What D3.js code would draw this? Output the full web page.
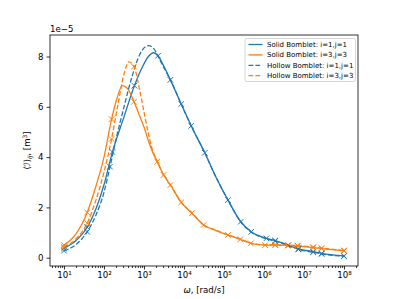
<!DOCTYPE html>
<html>
<head>
<meta charset="utf-8">
<script src="https://cdn.jsdelivr.net/npm/d3@7"></script>
<style>
  body { margin: 0; background: #fff; }
  text { font-family: "DejaVu Sans", sans-serif; }
</style>
</head>
<body>
<svg id="chart" width="399" height="299"></svg>
<script>
// curves: log10(omega) and value (x1e-5)
var s11Exp = [1.0, 1.3, 1.58, 1.8, 2.0, 2.21, 2.5, 2.76, 2.95, 3.1, 3.24, 3.35, 3.5, 3.66, 3.93, 4.18, 4.52, 4.8, 5.1, 5.42, 5.68, 6.06, 6.28, 6.61, 6.86, 7.23, 7.44, 8.0];
var s11Val = [0.37, 0.68, 1.21, 1.95, 2.9, 4.2, 5.6, 6.84, 7.55, 7.98, 8.15, 8.03, 7.6, 7.07, 6.11, 5.24, 4.17, 3.2, 2.29, 1.43, 1.03, 0.77, 0.68, 0.5, 0.35, 0.24, 0.17, 0.07];
var h11Exp = [1.0, 1.3, 1.58, 1.8, 2.0, 2.15, 2.3, 2.5, 2.7, 2.9, 3.05, 3.12, 3.25, 3.4, 3.55, 3.66, 3.93, 4.18, 4.52, 4.8, 5.1, 5.42, 5.68, 6.06, 6.28, 6.61, 6.86, 7.23, 7.44, 8.0];
var h11Val = [0.28, 0.52, 1.03, 1.7, 2.6, 3.62, 4.7, 6.0, 7.2, 8.1, 8.4, 8.43, 8.3, 7.85, 7.4, 7.07, 6.11, 5.24, 4.17, 3.2, 2.29, 1.42, 1.02, 0.75, 0.66, 0.48, 0.33, 0.22, 0.15, 0.06];
var s33Exp = [1.0, 1.3, 1.58, 1.8, 2.0, 2.19, 2.3, 2.46, 2.6, 2.75, 2.9, 3.0, 3.1, 3.2, 3.33, 3.49, 3.66, 3.93, 4.2, 4.49, 4.8, 5.1, 5.41, 5.67, 6.03, 6.28, 6.59, 6.84, 7.23, 7.44, 8.0];
var s33Val = [0.5, 0.95, 1.8, 2.85, 4.0, 5.51, 6.2, 6.84, 6.7, 6.2, 5.6, 5.2, 4.7, 4.25, 3.82, 3.29, 2.89, 2.2, 1.77, 1.3, 1.08, 0.9, 0.73, 0.57, 0.5, 0.5, 0.48, 0.46, 0.4, 0.36, 0.27];
var h33Exp = [1.0, 1.3, 1.58, 1.8, 2.0, 2.19, 2.35, 2.5, 2.62, 2.75, 2.9, 3.0, 3.1, 3.2, 3.33, 3.49, 3.66, 3.93, 4.2, 4.49, 4.8, 5.1, 5.41, 5.67, 6.03, 6.28, 6.59, 6.84, 7.23, 7.44, 8.0];
var h33Val = [0.42, 0.75, 1.37, 2.3, 3.4, 4.72, 6.1, 7.3, 7.79, 7.6, 6.6, 5.8, 5.0, 4.35, 3.84, 3.3, 2.9, 2.21, 1.78, 1.31, 1.09, 0.91, 0.74, 0.58, 0.51, 0.52, 0.5, 0.48, 0.42, 0.38, 0.29];

// x markers
var s11MarkExp = [1.0, 1.58, 2.21, 2.76, 3.35, 3.66, 3.93, 4.18, 4.52, 5.1, 5.42, 5.68, 6.06, 6.28, 6.61, 6.86, 7.23, 7.44, 8.0];
var s11MarkVal = [0.37, 1.21, 4.2, 6.84, 8.03, 7.07, 6.11, 5.24, 4.17, 2.29, 1.43, 1.03, 0.77, 0.68, 0.5, 0.35, 0.24, 0.17, 0.07];
var h11MarkExp = [1.0, 1.58, 2.15, 6.28, 6.86, 7.23, 7.44, 8.0];
var h11MarkVal = [0.28, 1.03, 3.62, 0.66, 0.33, 0.22, 0.15, 0.06];
var s33MarkExp = [1.0, 1.58, 2.19, 2.75, 3.33, 3.49, 3.66, 3.93, 4.2, 4.49, 5.1, 5.41, 5.67, 6.03, 6.28, 6.59, 6.84, 7.23, 7.44, 8.0];
var s33MarkVal = [0.5, 1.8, 5.51, 6.2, 3.82, 3.29, 2.89, 2.2, 1.77, 1.3, 0.9, 0.73, 0.57, 0.5, 0.5, 0.48, 0.46, 0.4, 0.36, 0.27];
var h33MarkExp = [1.0, 1.58, 2.19, 2.75, 6.28, 6.84, 7.23, 7.44, 8.0];
var h33MarkVal = [0.42, 1.37, 4.72, 7.6, 0.52, 0.48, 0.42, 0.38, 0.29];

var legendLabels = ["Solid Bomblet: i=1,j=1", "Solid Bomblet: i=3,j=3", "Hollow Bomblet: i=1,j=1", "Hollow Bomblet: i=3,j=3"];
var yTicks = [0, 2, 4, 6, 8];
var xTickExps = [1, 2, 3, 4, 5, 6, 7, 8];

var blue = "#1f77b4", orange = "#ff7f0e";
var series = [
  { exp: s11Exp, val: s11Val, mx: s11MarkExp, my: s11MarkVal, color: blue, dash: null },
  { exp: s33Exp, val: s33Val, mx: s33MarkExp, my: s33MarkVal, color: orange, dash: null },
  { exp: h11Exp, val: h11Val, mx: h11MarkExp, my: h11MarkVal, color: blue, dash: "4.8,2.1" },
  { exp: h33Exp, val: h33Val, mx: h33MarkExp, my: h33MarkVal, color: orange, dash: "4.8,2.1" }
];

var L = 50, R = 358, T = 35, B = 266;
var svg = d3.select("#chart");

var x = d3.scaleLog().domain([Math.pow(10, 0.65), Math.pow(10, 8.35)]).range([L, R]);
var y = d3.scaleLinear().domain([-0.33, 8.855]).range([B, T]);

// axes
var sup = { "1": "¹", "2": "²", "3": "³", "4": "⁴", "5": "⁵", "6": "⁶", "7": "⁷", "8": "⁸" };
var minors = [];
for (var e = 0; e <= 8; e++) {
  for (var k = 2; k <= 9; k++) {
    var v = k * Math.pow(10, e);
    if (v > x.domain()[0] && v < x.domain()[1]) minors.push(v);
  }
}

svg.append("g").attr("transform", "translate(0," + B + ")")
  .call(d3.axisBottom(x).tickValues(xTickExps.map(function (d) { return Math.pow(10, d); }))
    .tickSize(3.5).tickPadding(2.5)
    .tickFormat(function (d) { return "10" + sup[String(Math.round(Math.log10(d)))]; }));
svg.append("g").attr("transform", "translate(0," + B + ")")
  .call(d3.axisBottom(x).tickValues(minors).tickSize(2).tickFormat(""));

svg.append("g").attr("transform", "translate(" + L + ",0)")
  .call(d3.axisLeft(y).tickValues(yTicks).tickSize(3.5).tickPadding(3).tickFormat(d3.format("d")));

svg.selectAll(".domain").remove();
svg.selectAll(".tick text").style("font-size", "8.6px").attr("fill", "#000");
svg.selectAll(".tick line").attr("stroke", "#000").attr("stroke-width", 0.8);

// curves
var line = d3.line()
  .x(function (d) { return x(Math.pow(10, d[0])); })
  .y(function (d) { return y(d[1]); })
  .curve(d3.curveMonotoneX);

var plot = svg.append("g");
series.forEach(function (s) {
  var pts = s.exp.map(function (e, i) { return [e, s.val[i]]; });
  plot.append("path").datum(pts)
    .attr("d", line)
    .attr("fill", "none")
    .attr("stroke", s.color)
    .attr("stroke-width", 1.3)
    .attr("stroke-dasharray", s.dash);
});
series.forEach(function (s) {
  var marks = s.mx.map(function (e, i) { return [e, s.my[i]]; });
  plot.selectAll(null).data(marks).enter()
    .append("path")
    .attr("transform", function (d) { return "translate(" + x(Math.pow(10, d[0])) + "," + y(d[1]) + ")"; })
    .attr("d", "M-2.8,-2.8L2.8,2.8M-2.8,2.8L2.8,-2.8")
    .attr("stroke", s.color)
    .attr("stroke-width", 1);
});

// frame
svg.append("rect").attr("x", L).attr("y", T).attr("width", R - L).attr("height", B - T)
  .attr("fill", "none").attr("stroke", "#000").attr("stroke-width", 0.8);

// offset text
svg.append("text").attr("x", L).attr("y", 32).style("font-size", "8.6px").text("1e\u22125");

// axis labels
svg.append("text").attr("x", (L + R) / 2).attr("y", 293).attr("text-anchor", "middle")
  .style("font-size", "8.6px")
  .html('<tspan font-style="italic">ω</tspan>, [rad/s]');

var yl = svg.append("text").attr("transform", "translate(30," + ((T + B) / 2) + ") rotate(-90)")
  .attr("text-anchor", "middle").style("font-size", "8.6px");
yl.append("tspan").text("⟨");
yl.append("tspan").attr("font-style", "italic").text("ℐ");
yl.append("tspan").text("⟩");
yl.append("tspan").attr("dy", 2).attr("font-style", "italic").style("font-size", "6px").text("ij");
yl.append("tspan").attr("dy", -2).text(", [m");
yl.append("tspan").attr("dy", -3).style("font-size", "6px").text("3");
yl.append("tspan").attr("dy", 3).text("]");

// legend
var lg = svg.append("g");
lg.append("rect").attr("x", 245).attr("y", 38.5).attr("width", 110.5).attr("height", 43)
  .attr("rx", 2).attr("fill", "#fff").attr("fill-opacity", 0.8)
  .attr("stroke", "#ccc").attr("stroke-width", 0.8);
series.forEach(function (s, i) {
  var yy = 44.5 + i * 10.4;
  lg.append("line").attr("x1", 248.5).attr("x2", 262.5).attr("y1", yy).attr("y2", yy)
    .attr("stroke", s.color).attr("stroke-width", 1.3).attr("stroke-dasharray", s.dash);
  lg.append("text").attr("x", 267).attr("y", yy + 2.5).style("font-size", "7px").text(legendLabels[i]);
});
</script>
</body>
</html>
